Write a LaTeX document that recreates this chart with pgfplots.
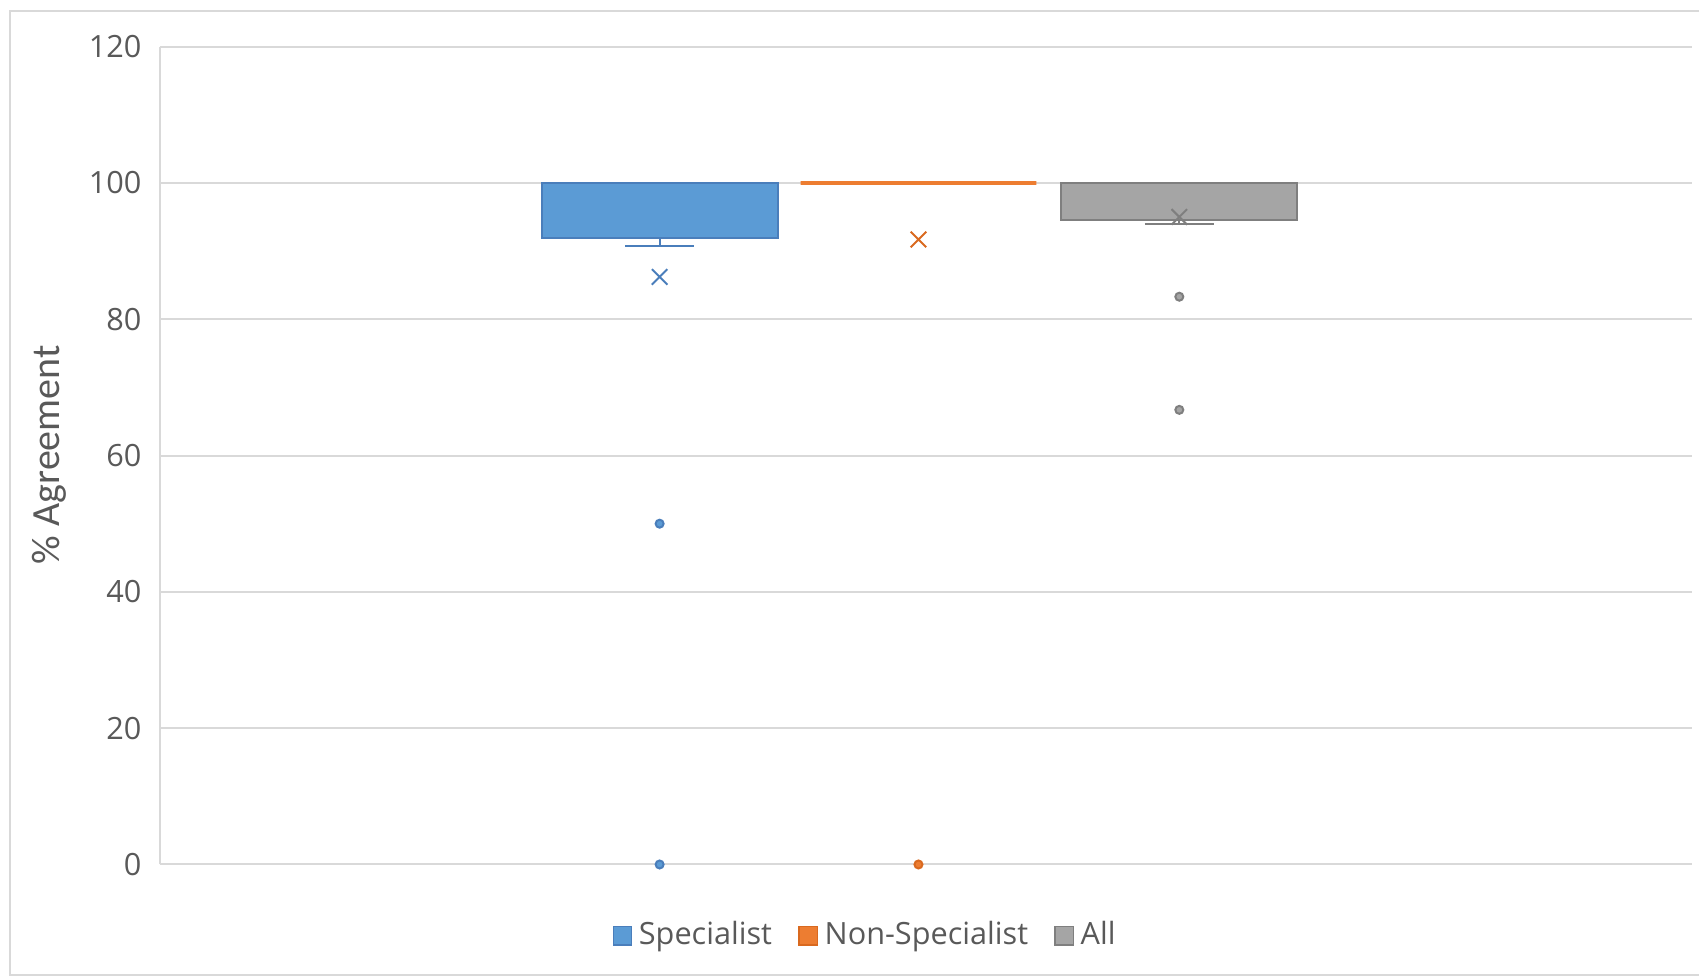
\documentclass[border=0pt]{standalone}
\usepackage{fontspec}
\setmainfont{Open Sans}
\newfontfamily\labfont{Carlito}
\usepackage{pgfplots}
\pgfplotsset{compat=1.18}
\usepgfplotslibrary{statistics}
\definecolor{cblue}{HTML}{5B9BD5}
\definecolor{cblued}{HTML}{4A7EBB}
\definecolor{corange}{HTML}{ED7D31}
\definecolor{corangd}{HTML}{D9691F}
\definecolor{cgray}{HTML}{A5A5A5}
\definecolor{cgrayd}{HTML}{7F7F7F}
\definecolor{ctext}{HTML}{595959}
\definecolor{cgrid}{HTML}{D9D9D9}
\begin{document}
\begin{tikzpicture}
\path (-48pt,-33.9pt) rectangle (462pt,259.5pt);
\draw[cgrid, line width=0.6pt] (462pt,256.2pt) -- (-45pt,256.2pt) -- (-45pt,-33.3pt) -- (462pt,-33.3pt);
\begin{axis}[
  at={(0,0)}, anchor=south west,
  scale only axis, width=459.9pt, height=245.52pt,
  xmin=160, xmax=1693, ymin=0, ymax=120,
  xtick=\empty, ytick={0,20,...,120},
  ymajorgrids, grid style={cgrid, line width=0.6pt},
  axis x line=bottom, axis y line=left,
  axis line style={-, cgrid, line width=0.6pt},
  major tick length=0pt, tick style={draw=none},
  /pgf/number format/assume math mode=true,
  yticklabel style={font=\fontsize{9.2}{11}\selectfont, text=ctext, xshift=-2pt},
  ylabel={\% Agreement},
  ylabel style={font=\labfont\fontsize{12}{14}\selectfont, text=ctext, at={(axis description cs:-0.0724,0.501)}, anchor=center},
  clip=false,
  boxplot/draw direction=y,
  legend columns=3,
  legend style={at={(axis description cs:0.4618,-0.0871)}, anchor=center, draw=none, fill=none,
    font=\fontsize{9.2}{11}\selectfont, text=ctext,
    /tikz/every even column/.append style={column sep=5.9pt}},
  legend image code/.code={\draw[#1] (0pt,-2.75pt) rectangle (5.5pt,2.75pt);},
]
% Specialist
\addplot[forget plot, boxplot prepared={draw position=660, lower whisker=90.8, lower quartile=91.9, median=100, upper quartile=100, upper whisker=100, box extend=236, whisker extend=69},
  fill=cblue, draw=cblued, line width=0.6pt, mark=*, mark size=1.2pt, mark options={fill=cblue, draw=cblued, solid}]
  coordinates {(660,0) (660,50)};
\addplot[forget plot, only marks, mark=x, mark size=3.3pt, mark options={draw=cblued, line width=0.6pt}] coordinates {(660,86.2)};
% Non-Specialist
\addplot[forget plot, boxplot prepared={draw position=919, lower whisker=100, lower quartile=100, median=100, upper quartile=100, upper whisker=100, box extend=236, whisker extend=69},
  fill=corange, draw=corange, line width=1.1pt, mark=*, mark size=1.2pt, mark options={fill=corange, draw=corangd, line width=0.6pt, solid}]
  coordinates {(919,0)};
\addplot[forget plot, only marks, mark=x, mark size=3.3pt, mark options={draw=corangd, line width=0.6pt}] coordinates {(919,91.7)};
% All
\addplot[forget plot, boxplot prepared={draw position=1180, lower whisker=94.0, lower quartile=94.6, median=100, upper quartile=100, upper whisker=100, box extend=236, whisker extend=69},
  fill=cgray, draw=cgrayd, line width=0.6pt, mark=*, mark size=1.2pt, mark options={fill=cgray, draw=cgrayd, solid}]
  coordinates {(1180,83.3) (1180,66.7)};
\addplot[forget plot, only marks, mark=x, mark size=3.3pt, mark options={draw=cgrayd, line width=0.6pt}] coordinates {(1180,95.0)};
\addlegendimage{fill=cblue, draw=cblued, line width=0.4pt}
\addlegendimage{fill=corange, draw=corangd, line width=0.4pt}
\addlegendimage{fill=cgray, draw=cgrayd, line width=0.4pt}
\legend{Specialist, Non-Specialist, All}
\end{axis}
\end{tikzpicture}
\end{document}
